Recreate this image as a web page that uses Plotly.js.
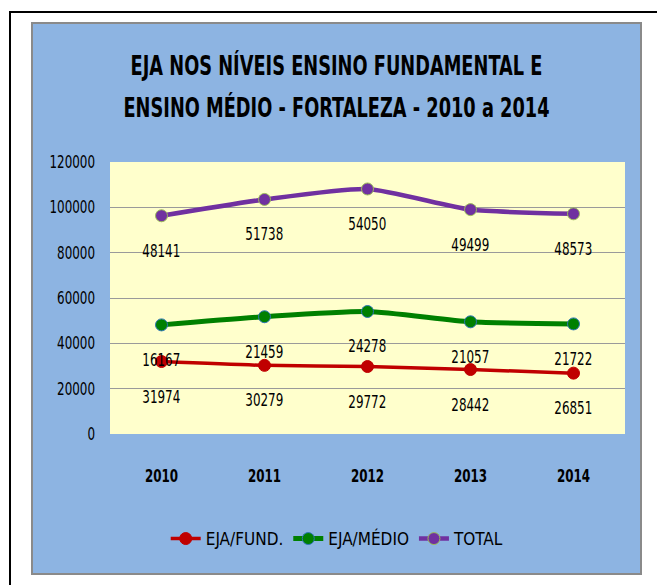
<!DOCTYPE html>
<html>
<head>
<meta charset="utf-8">
<script src="https://cdn.plot.ly/plotly-3.0.1.min.js"></script>
<style>
  html, body { margin: 0; padding: 0; background: #ffffff; }
  body { width: 657px; height: 585px; position: relative; overflow: hidden; }
  #frame { position: absolute; left: 9px; top: 11px; width: 700px; height: 700px;
           border-left: 2px solid #000; border-top: 2px solid #000; }
  #chart { position: absolute; left: 31px; top: 22px; width: 607px; height: 549px;
           border: 2px solid #8a8a8a; }
</style>
</head>
<body>
<div id="frame"></div>
<div id="chart"></div>
<script>
const years = ['2010', '2011', '2012', '2013', '2014'];
const fund = [31974, 30279, 29772, 28442, 26851];
const medio = [16167, 21459, 24278, 21057, 21722];
const total = [48141, 51738, 54050, 49499, 48573];
const seriesNames = ['EJA/FUND.', 'EJA/MÉDIO', 'TOTAL'];
const yTicks = [0, 20000, 40000, 60000, 80000, 100000, 120000];

const FONT = '"Liberation Sans Narrow", "DejaVu Sans Condensed", "Arial Narrow", sans-serif';
const colors = ['#C00000', '#008000', '#7030A0'];
const edge = ['#C00000', '#2E75B6', '#9BBB59'];
const widths = [3.5, 5, 4.5];
const series = [fund, medio, total];

const traces = series.map((vals, i) => ({
  type: 'scatter',
  mode: 'lines+markers',
  name: seriesNames[i],
  x: years,
  y: vals,
  stackgroup: 'one',
  fill: 'none',
  line: { color: colors[i], width: widths[i], shape: 'spline', smoothing: 0.6 },
  marker: { color: colors[i], size: 12, line: { color: edge[i], width: 1 } },
  hoverinfo: 'skip'
}));

// cumulative positions for the labels (stacked chart)
const annotations = [];
const cum = years.map(() => 0);
series.forEach((vals) => {
  vals.forEach((v, j) => {
    cum[j] += v;
    annotations.push({
      x: j, y: cum[j], xref: 'x', yref: 'y',
      text: String(v), showarrow: false, yshift: -35,
      font: { family: FONT, size: 17, color: '#000' }
    });
  });
});

const layout = {
  width: 607, height: 549,
  paper_bgcolor: '#8DB4E2',
  plot_bgcolor: '#FFFFCC',
  margin: { l: 77, r: 15, t: 138, b: 139 },
  title: {
    text: '<b>EJA NOS NÍVEIS ENSINO FUNDAMENTAL E<br>ENSINO MÉDIO - FORTALEZA - 2010 a 2014</b>',
    font: { family: FONT, size: 26, color: '#000' },
    x: 0.5, xanchor: 'center', xref: 'container',
    y: 1 - 58 / 549, yanchor: 'middle', yref: 'container'
  },
  xaxis: {
    type: 'category',
    range: [-0.5, 4.5],
    showgrid: false, zeroline: false, showline: false,
    ticks: '', ticklabelstandoff: 30,
    tickfont: { family: FONT, size: 17, color: '#000', weight: 'bold' },
    fixedrange: true
  },
  yaxis: {
    range: [0, 120000],
    tickvals: yTicks,
    ticktext: yTicks.map(String),
    showgrid: true, gridcolor: '#9a9a9a', gridwidth: 1,
    zeroline: false, showline: false,
    ticks: '', ticklabelstandoff: 14,
    tickfont: { family: FONT, size: 17, color: '#000' },
    fixedrange: true
  },
  showlegend: true,
  legend: {
    orientation: 'h',
    xref: 'container', x: 0.502, xanchor: 'center',
    yref: 'container', y: 1 - 515 / 549, yanchor: 'middle',
    font: { family: FONT, size: 17, color: '#000' },
    bgcolor: 'rgba(0,0,0,0)',
    itemwidth: 30, tracegroupgap: 0,
    traceorder: 'normal'
  },
  annotations: annotations
};

// narrow the wide fallback font horizontally to imitate the condensed original
function compress(el, s) {
  const x = parseFloat(el.getAttribute('x')) || 0;
  const y = parseFloat(el.getAttribute('y')) || 0;
  const t = el.getAttribute('transform') || '';
  el.setAttribute('transform', t + ' translate(' + x + ',' + y + ') scale(' + s + ',1) translate(' + (-x) + ',' + (-y) + ')');
}

Plotly.newPlot('chart', traces, layout, { displayModeBar: false, staticPlot: true }).then((gd) => {
  gd.querySelectorAll('.ytick text, .xtick text, .annotation-text').forEach((el) => compress(el, 0.78));
  gd.querySelectorAll('.gtitle').forEach((el) => {
    compress(el, 0.76);
    const lines = el.querySelectorAll('tspan.line');
    if (lines.length === 2) {
      lines[0].setAttribute('dy', '-7px');
      lines[1].setAttribute('dy', '34.8px');
    }
  });
});
</script>
</body>
</html>
